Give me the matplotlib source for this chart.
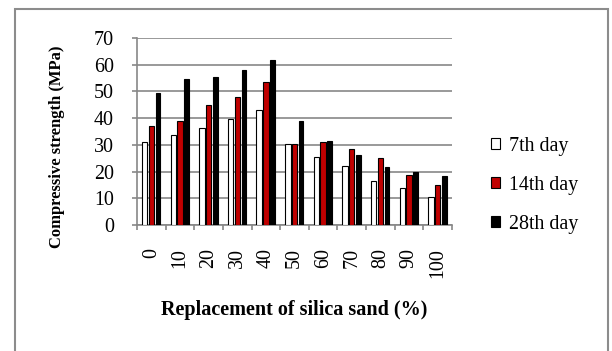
import matplotlib
matplotlib.use("Agg")
import matplotlib.pyplot as plt
import numpy as np
from matplotlib.patches import Rectangle

# Compressive strength of mortar vs. silica sand replacement level
replacement = ["0", "10", "20", "30", "40", "50", "60", "70", "80", "90", "100"]
day7 = [31.1, 33.8, 36.2, 39.6, 42.9, 30.4, 25.4, 22.2, 16.6, 13.7, 10.6]
day14 = [37.1, 39.1, 44.8, 48.0, 53.5, 30.4, 31.1, 28.5, 25.0, 18.8, 15.1]
day28 = [49.4, 54.6, 55.4, 58.1, 61.6, 39.1, 31.4, 26.3, 21.6, 19.9, 18.3]
series_labels = ["7th day", "14th day", "28th day"]

plt.rcParams["font.family"] = ["Liberation Serif", "DejaVu Serif"]

W, H = 612, 351
fig = plt.figure(figsize=(W / 100, H / 100), dpi=100)

# outer chart frame
fig.patches.append(Rectangle((15 / W, -0.05), (608 - 15) / W, 1.05 - 9 / H,
                             transform=fig.transFigure, fill=False,
                             edgecolor="#8c8c8c", linewidth=1.5, zorder=0))

ax = fig.add_axes([137 / W, 1 - 225 / H, (452 - 137) / W, (225 - 38) / H])

x = np.arange(len(replacement))
bw = 0.19
off = 0.232
grid_c = "#878787"
b1 = ax.bar(x - off, day7, bw, color="white", edgecolor="black", linewidth=0.8, zorder=3)
b2 = ax.bar(x, day14, bw, color="#c00000", edgecolor="black", linewidth=0.8, zorder=3)
b3 = ax.bar(x + off, day28, bw * 0.85, color="black", edgecolor="black", linewidth=0.8, zorder=3)

ax.set_xlim(-0.5, len(replacement) - 0.5)
ax.set_ylim(0, 70)
ax.set_yticks(np.arange(0, 71, 10))
ax.yaxis.grid(True, color=grid_c, linewidth=1.2, zorder=0)
ax.set_axisbelow(True)

for s in ["top", "right"]:
    ax.spines[s].set_visible(False)
for s in ["left", "bottom"]:
    ax.spines[s].set_color(grid_c)
    ax.spines[s].set_linewidth(1.2)

ax.tick_params(axis="y", direction="out", length=3.6, width=1.2, color=grid_c,
               labelsize=14.4, pad=13)
ax.set_xticks(x)
ax.set_xticklabels(replacement, rotation=90, fontsize=14.4)
ax.set_xticks(np.arange(-0.5, len(replacement)), minor=True)
ax.tick_params(axis="x", which="major", length=0, pad=16.5)
ax.tick_params(axis="x", which="minor", direction="out", length=3.6, width=1.2, color=grid_c)
for lab in ax.get_xticklabels():
    lab.set_verticalalignment("top")

fig.text(294 / W, 1 - 310 / H, "Replacement of silica sand (%)", ha="center", va="center",
         fontsize=14.5, fontweight="bold")
fig.text(57 / W, 1 - 147 / H, "Compressive strength (MPa)", ha="center", va="center",
         rotation=90, fontsize=12, fontweight="bold")

leg = fig.legend([b1, b2, b3], series_labels, loc="center left",
                 bbox_to_anchor=(491 / W, 1 - 185 / H), frameon=False, fontsize=14.4,
                 handlelength=0.45, handleheight=0.42, handletextpad=0.45,
                 labelspacing=1.0, borderpad=0, borderaxespad=0)

fig.savefig("out.png", dpi=100)
